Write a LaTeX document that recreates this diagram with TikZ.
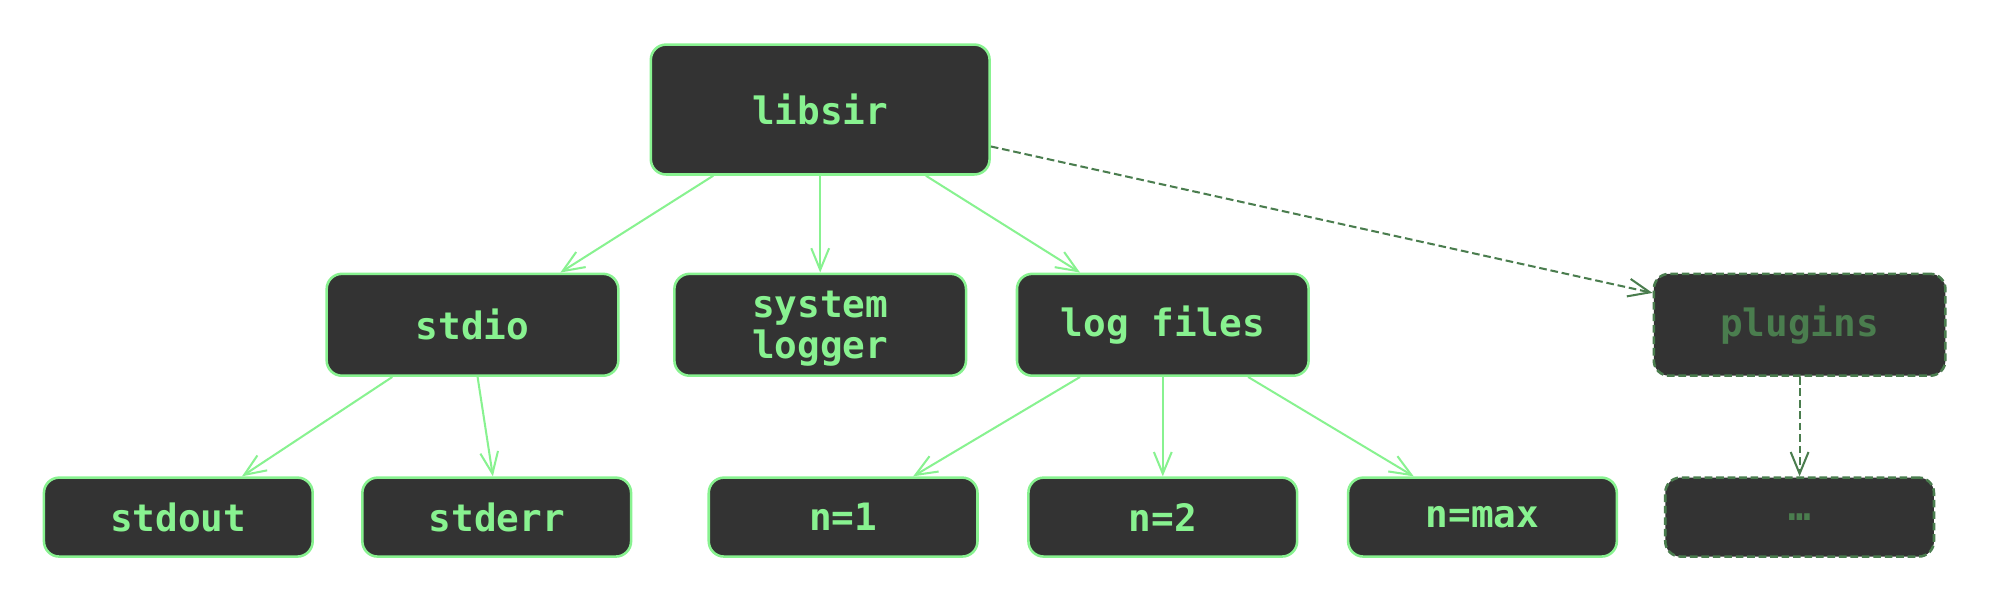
\documentclass[tikz,border=0pt]{standalone}
\usepackage{fontspec}
\setmonofont{DejaVu Sans Mono}
\usetikzlibrary{arrows.meta}
\definecolor{boxfill}{HTML}{333333}
\definecolor{lgreen}{HTML}{88F290}
\definecolor{dgreen}{HTML}{4A7D4E}
\tikzset{
  box/.style={draw=lgreen, fill=boxfill, line width=2pt, rounded corners=12pt,
    text=lgreen, font=\fontsize{29.6}{32}\selectfont\ttfamily\bfseries,
    inner sep=0pt, align=center},
  dbox/.style={box, draw=dgreen, text=dgreen, dashed, dash pattern=on 6pt off 3pt},
  topbox/.style={box, minimum width=229pt, minimum height=80pt},
  botbox/.style={box, minimum width=211pt, minimum height=62pt},
  edge/.style={draw=lgreen, line width=1.6pt, -{Straight Barb[length=17pt,width=14pt,line width=1.6pt]}},
  dedge/.style={edge, draw=dgreen, dash pattern=on 6pt off 3pt}
}
\begin{document}
\begin{tikzpicture}[x=1pt,y=-1pt]
\useasboundingbox (0,0) rectangle (1568,479.7);
\node[box, minimum width=266pt, minimum height=102pt] (libsir) at (644,86) {libsir};
\node[topbox] (stdio) at (371,255) {stdio};
\node[topbox] (syslog) at (644,255) {};
\node[font=\fontsize{29.6}{32}\selectfont\ttfamily\bfseries, text=lgreen, align=center, inner sep=0pt] (syslogtext) at (644,258) {system\\logger};
\node[topbox] (logfiles) at (913,255) {log files};
\node[topbox, dbox] (plugins) at (1413,255) {plugins};
\node[botbox] (stdout) at (140,406) {stdout};
\node[botbox] (stderr) at (390,406) {stderr};
\node[botbox] (n1) at (662,406) {n=1};
\node[botbox] (n2) at (913,406) {n=2};
\node[botbox] (nmax) at (1164,406) {n=max};
\node[botbox, dbox] (dots) at (1413,406) {…};

\draw[edge] ([xshift=-84pt]libsir.south) -- ([xshift=69pt]stdio.north);
\draw[edge] (libsir.south) -- (syslog.north);
\draw[edge] ([xshift=83pt]libsir.south) -- ([xshift=-65pt]logfiles.north);
\draw[dedge] ([yshift=-29pt]libsir.east) -- ([yshift=25pt]plugins.west);
\draw[dedge] (plugins.south) -- (dots.north);
\draw[edge] ([xshift=-63pt]stdio.south) -- ([xshift=50pt]stdout.north);
\draw[edge] ([xshift=4pt]stdio.south) -- ([xshift=-3pt]stderr.north);
\draw[edge] ([xshift=-65pt]logfiles.south) -- ([xshift=55pt]n1.north);
\draw[edge] (logfiles.south) -- (n2.north);
\draw[edge] ([xshift=67pt]logfiles.south) -- ([xshift=-54pt]nmax.north);
\end{tikzpicture}
\end{document}
